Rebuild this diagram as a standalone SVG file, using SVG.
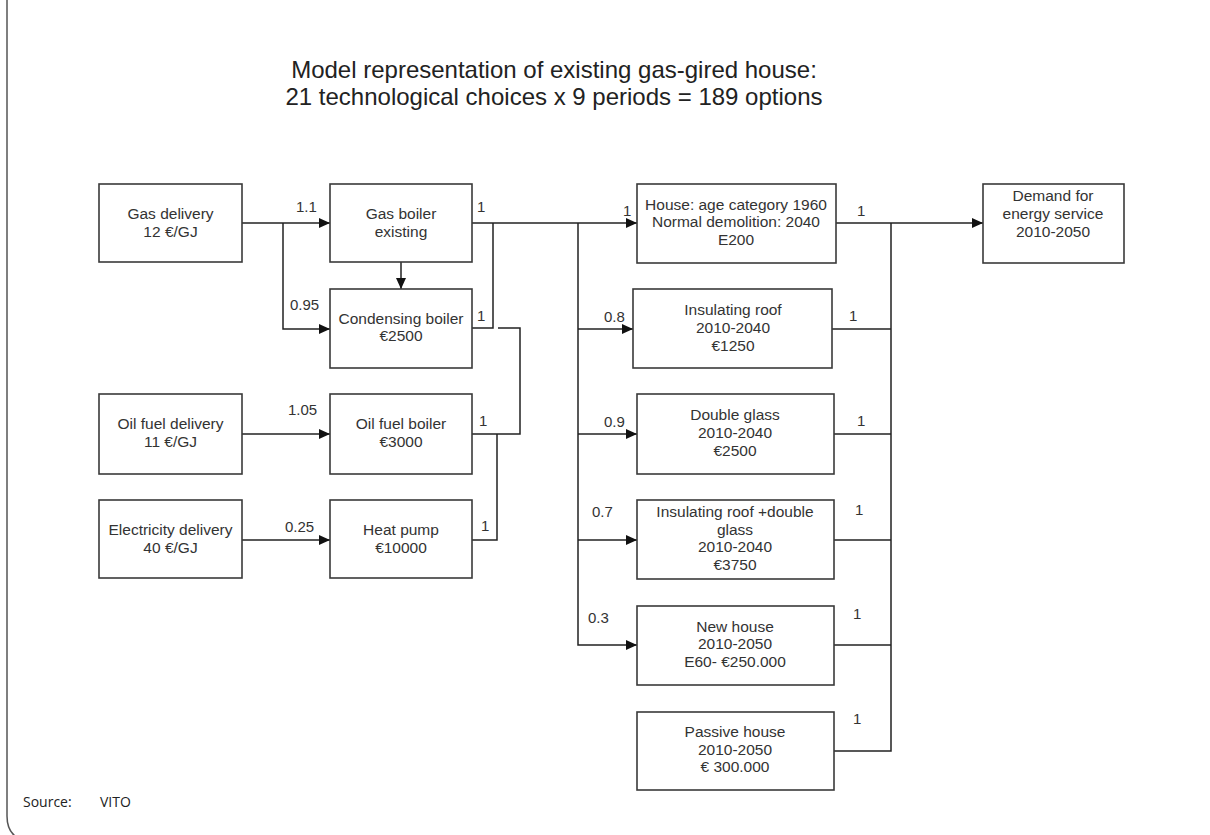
<svg xmlns="http://www.w3.org/2000/svg" width="1210" height="835" viewBox="0 0 1210 835">
<style>
.box{fill:#fff;stroke:#3a3a3a;stroke-width:1.6}
.t{font-family:"Liberation Sans",Arial,sans-serif;font-size:15.5px;fill:#333;text-anchor:middle}
.l{font-family:"Liberation Sans",Arial,sans-serif;font-size:15px;fill:#333}
.c{fill:none;stroke:#222;stroke-width:1.5}
.title{font-family:"Liberation Sans",Arial,sans-serif;font-size:24px;fill:#222;text-anchor:middle}
.src{font-family:"Open Sans","Noto Sans",sans-serif;font-size:14px;fill:#222}
</style>
<defs>
<marker id="arr" markerUnits="userSpaceOnUse" markerWidth="11" markerHeight="10" refX="11" refY="5" orient="auto">
<path d="M0,0 L11,5 L0,10 z" fill="#111"/>
</marker>
</defs>
<rect width="1210" height="835" fill="#fff"/>
<path d="M7,0 V816 Q7,832 18,838" fill="none" stroke="#555" stroke-width="1.5"/>
<text class="title" x="554" y="78">Model representation of existing gas-gired house:</text>
<text class="title" x="554" y="105">21 technological choices x 9 periods = 189 options</text>

<g id="connectors">
<path class="c" d="M242,223 H330" marker-end="url(#arr)"/>
<path class="c" d="M283,223 V329 H330" marker-end="url(#arr)"/>
<path class="c" d="M401,262 V289" marker-end="url(#arr)"/>
<path class="c" d="M242,434 H330" marker-end="url(#arr)"/>
<path class="c" d="M242,540 H330" marker-end="url(#arr)"/>
<path class="c" d="M472,223 H637" marker-end="url(#arr)"/>
<path class="c" d="M472,328 H493 V223"/>
<path class="c" d="M472,434 H520 V328 H498"/>
<path class="c" d="M472,540 H497 V434"/>
<path class="c" d="M578,223 V645 H637" marker-end="url(#arr)"/>
<path class="c" d="M578,329 H633" marker-end="url(#arr)"/>
<path class="c" d="M578,434 H637" marker-end="url(#arr)"/>
<path class="c" d="M578,540 H637" marker-end="url(#arr)"/>
<path class="c" d="M836,223 H983" marker-end="url(#arr)"/>
<path class="c" d="M891,223 V751 H834"/>
<path class="c" d="M832,329 H891"/>
<path class="c" d="M834,434 H891"/>
<path class="c" d="M834,540 H891"/>
<path class="c" d="M834,645 H891"/>
<text class="l" x="296" y="212">1.1</text>
<text class="l" x="290" y="310">0.95</text>
<text class="l" x="288" y="415">1.05</text>
<text class="l" x="285" y="532">0.25</text>
<text class="l" x="477" y="212">1</text>
<text class="l" x="477" y="321">1</text>
<text class="l" x="479" y="426">1</text>
<text class="l" x="481" y="531">1</text>
<text class="l" x="623" y="216">1</text>
<text class="l" x="604" y="322">0.8</text>
<text class="l" x="604" y="427">0.9</text>
<text class="l" x="592" y="517">0.7</text>
<text class="l" x="588" y="623">0.3</text>
<text class="l" x="857" y="216">1</text>
<text class="l" x="849" y="321">1</text>
<text class="l" x="857" y="426">1</text>
<text class="l" x="855" y="515">1</text>
<text class="l" x="853" y="619">1</text>
<text class="l" x="853" y="724">1</text>
</g>

<g id="gas-delivery">
<rect class="box" x="99" y="184" width="143" height="78"/>
<text class="t" x="170.5" y="219">Gas delivery</text>
<text class="t" x="170.5" y="237">12 €/GJ</text>
</g>
<g id="gas-boiler">
<rect class="box" x="330" y="184" width="142" height="78"/>
<text class="t" x="401" y="219">Gas boiler</text>
<text class="t" x="401" y="237">existing</text>
</g>
<g id="condensing-boiler">
<rect class="box" x="330" y="289" width="142" height="79"/>
<text class="t" x="401" y="324">Condensing boiler</text>
<text class="t" x="401" y="341">€2500</text>
</g>
<g id="oil-delivery">
<rect class="box" x="99" y="394" width="143" height="80"/>
<text class="t" x="170.5" y="429">Oil fuel delivery</text>
<text class="t" x="170.5" y="447">11 €/GJ</text>
</g>
<g id="oil-boiler">
<rect class="box" x="330" y="394" width="142" height="80"/>
<text class="t" x="401" y="429">Oil fuel boiler</text>
<text class="t" x="401" y="447">€3000</text>
</g>
<g id="electricity-delivery">
<rect class="box" x="99" y="500" width="143" height="78"/>
<text class="t" x="170.5" y="535">Electricity delivery</text>
<text class="t" x="170.5" y="553">40 €/GJ</text>
</g>
<g id="heat-pump">
<rect class="box" x="330" y="500" width="142" height="78"/>
<text class="t" x="401" y="535">Heat pump</text>
<text class="t" x="401" y="553">€10000</text>
</g>
<g id="house">
<rect class="box" x="637" y="184" width="199" height="79"/>
<text class="t" x="736" y="210">House: age category 1960</text>
<text class="t" x="736" y="227">Normal demolition: 2040</text>
<text class="t" x="736" y="245">E200</text>
</g>
<g id="insulating-roof">
<rect class="box" x="633" y="289" width="199" height="79"/>
<text class="t" x="733" y="315">Insulating roof</text>
<text class="t" x="733" y="333">2010-2040</text>
<text class="t" x="733" y="351">€1250</text>
</g>
<g id="double-glass">
<rect class="box" x="637" y="394" width="197" height="80"/>
<text class="t" x="735" y="420">Double glass</text>
<text class="t" x="735" y="438">2010-2040</text>
<text class="t" x="735" y="456">€2500</text>
</g>
<g id="roof-glass">
<rect class="box" x="637" y="500" width="197" height="79"/>
<text class="t" x="735" y="517">Insulating roof +double</text>
<text class="t" x="735" y="535">glass</text>
<text class="t" x="735" y="552">2010-2040</text>
<text class="t" x="735" y="570">€3750</text>
</g>
<g id="new-house">
<rect class="box" x="637" y="606" width="197" height="79"/>
<text class="t" x="735" y="632">New house</text>
<text class="t" x="735" y="649">2010-2050</text>
<text class="t" x="735" y="667">E60- €250.000</text>
</g>
<g id="passive-house">
<rect class="box" x="637" y="712" width="197" height="78"/>
<text class="t" x="735" y="737">Passive house</text>
<text class="t" x="735" y="755">2010-2050</text>
<text class="t" x="735" y="772">€ 300.000</text>
</g>
<g id="demand">
<rect class="box" x="983" y="184" width="141" height="79"/>
<text class="t" x="1053" y="201">Demand for</text>
<text class="t" x="1053" y="219">energy service</text>
<text class="t" x="1053" y="237">2010-2050</text>
</g>
<text class="src" x="23" y="807">Source:</text>
<text class="src" x="100" y="807">VITO</text>
</svg>
